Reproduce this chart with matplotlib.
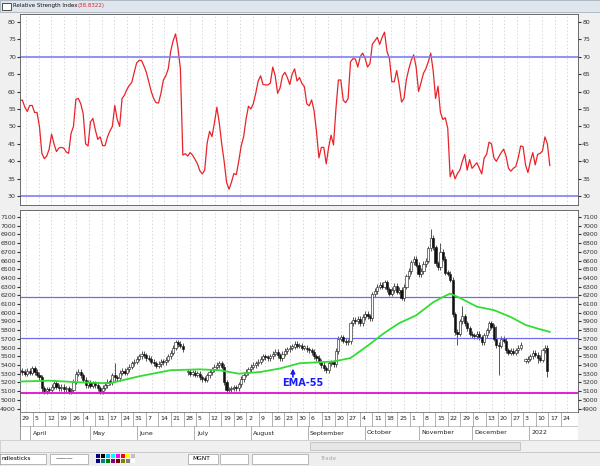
import matplotlib.pyplot as plt
import numpy as np
from matplotlib.patches import Rectangle

# ---- data (trading-day index) ----
rsi = [57.5, 57.5, 55.5, 54.3, 56, 56, 54, 54, 50, 42.3, 40.8, 41.5, 43.5, 47.8, 45, 42.8, 43.8, 44, 43.8, 42.7,
       42.3, 48, 50, 57.8, 58, 56.5, 53.6, 45, 44.4, 51.3, 52.3, 49, 46.3, 47, 44.5, 44.5, 47, 48.7, 50, 56,
       52, 50, 58, 59, 60.6, 61.8, 62.6, 65.5, 68.2, 68.9, 68.9, 67.3, 65.5, 62.8, 60, 58, 56.8, 56.7, 59.5, 63.3,
       64.5, 66.5, 71.5, 74.5, 76.5, 72.5, 66.5, 41.8, 42.2, 41.5, 42.5, 41.8, 40.6, 39.3, 37.3, 36.4, 37.5, 45.2, 48.6, 47.1,
       51, 55.5, 51, 45, 40, 34, 32, 34, 36.5, 36.2, 40, 44.4, 47, 52, 55.8, 55, 56.5, 59.5, 63, 64.5,
       62, 61.9, 61.9, 62.4, 67, 64.5, 59.5, 61, 64.5, 65.5, 64, 62, 65, 66.5, 63, 64, 62.3, 61.4, 56.5, 55.9,
       57.6, 54.5, 48.5, 41, 44, 44, 39.3, 44, 47.5, 44.7, 55, 63.3, 63.3, 57.5, 56.8, 58, 68.5, 69.4, 69.3, 67,
       70, 71, 69.5, 67, 68, 73.6, 74.5, 75.5, 73.5, 75.5, 77, 71.5, 69.5, 62.8, 62.8, 66, 62, 57, 58, 63.5,
       66.5, 69, 70.5, 67, 60, 62.5, 65.2, 66.5, 68.5, 71, 66, 58, 61.5, 54, 52, 52.5, 49.5, 35.6, 37.5, 35,
       36.5, 37.5, 40, 42, 37.5, 40.5, 38, 38.8, 39.6, 38, 36.4, 41, 42, 45.5, 45, 41, 40, 41.3, 42.5, 43.5,
       41.5, 38, 37.2, 38, 38.5, 41, 44.4, 44.2, 39, 36.8, 40, 42.5, 39, 42, 42.3, 43, 47, 45, 38.8]

close = [5330, 5320, 5300, 5330, 5310, 5360, 5320, 5290, 5260, 5130, 5100, 5120, 5110, 5150, 5190, 5150, 5130, 5150, 5120, 5130,
         5100, 5110, 5210, 5300, 5320, 5280, 5230, 5170, 5200, 5160, 5190, 5170, 5130, 5100, 5140, 5170, 5210, 5200, 5280, 5260,
         5250, 5310, 5330, 5310, 5350, 5380, 5420, 5440, 5470, 5500, 5530, 5510, 5480, 5470, 5440, 5420, 5390, 5410, 5440, 5430,
         5460, 5500, 5540, 5600, 5660, 5640, 5620, 5580, np.nan, 5320, 5300, 5310, 5290, 5300, 5260, 5240, 5230, 5280, 5320, 5350,
         5380, 5400, 5420, 5380, 5200, 5110, 5120, 5130, 5140, 5130, 5180, 5240, 5290, 5320, 5350, 5380, 5400, 5420, 5440, 5470,
         5500, 5490, 5480, 5500, 5530, 5550, 5510, 5480, 5530, 5560, 5580, 5600, 5610, 5640, 5620, 5620, 5600, 5600, 5580, 5570,
         5550, 5500, 5480, 5440, 5400, 5360, 5340, 5420, 5430, 5410, 5560, 5700, 5720, 5680, 5660, 5670, 5880, 5920, 5900, 5930,
         5880, 5950, 5990, 5960, 5940, 6210, 6250, 6300, 6320, 6300, 6350, 6270, 6220, 6260, 6310, 6240, 6260, 6170, 6300, 6420,
         6480, 6580, 6620, 6550, 6440, 6480, 6560, 6600, 6740, 6860, 6750, 6570, 6520, 6700, 6620, 6460, 6450, 6380, 5980, 5780,
         5760, 5900, 5960, 5880, 5820, 5760, 5740, 5730, 5760, 5720, 5660, 5740, 5800, 5880, 5840, 5700, 5630, 5620, 5700, 5680,
         5570, 5540, 5560, 5540, 5570, 5600, 5630, np.nan, 5450, 5470, 5500, 5540, 5520, 5480, 5460, 5570, 5600, 5330]

# long shadows visible on the chart
wick_low = {9: 5080, 39: 5200, 85: 5090, 157: 6150, 180: 5630, 197: 5280, 213: 5420, 217: 5260}
wick_high = {39: 5420, 65: 5690, 169: 6960, 173: 6800, 182: 6080, 196: 5850}

ema_days = [0, 12, 25, 37, 49, 62, 74, 82, 90, 99, 107, 115, 129, 136, 143, 150, 156, 163, 170, 174, 177, 181, 188, 195, 202, 208, 214, 218]
ema_vals = [5210, 5220, 5200, 5190, 5270, 5340, 5350, 5340, 5300, 5320, 5360, 5420, 5440, 5480, 5620, 5770, 5880, 5970, 6120, 6180, 6220, 6170, 6070, 6030, 5950, 5860, 5810, 5780]

week_labels = ["29", "5", "12", "19", "26", "4", "11", "17", "24", "31", "7", "14", "21", "28", "5", "12", "19", "26",
               "2", "9", "16", "23", "30", "6", "13", "20", "27", "4", "11", "18", "25", "1", "8", "15", "22", "29",
               "6", "13", "20", "27", "3", "10", "17", "24"]
month_labels = ["April", "May", "June", "July", "August", "September", "October", "November", "December", "2022"]
month_days = [5.3, 29.6, 49, 72.8, 95.9, 119.3, 142.8, 165, 187, 210.3]

price_lines = [6180, 5710]
support_line = 5080

XMAX = 229.6
week_ticks = np.linspace(2.5, 2.5 + 43 * 5.177, 44)

fig = plt.figure(figsize=(6, 4.66), dpi=100)
fig.patch.set_facecolor("#f0f0f0")

W, H = 600.0, 466.0


def px_axes(x0, y0, x1, y1):
    return fig.add_axes([x0 / W, 1 - y1 / H, (x1 - x0) / W, (y1 - y0) / H])


def style_panel(ax):
    ax.set_facecolor("white")
    ax.set_xlim(0, XMAX)
    ax.set_xticks(week_ticks)
    ax.tick_params(axis="x", length=0, labelbottom=False)
    ax.tick_params(axis="y", labelsize=4.5, length=2, pad=1, colors="#333333",
                   left=True, right=True, labelleft=True, labelright=True)
    ax.grid(axis="x", color="#c8c8c8", linestyle=(0, (2, 3)), linewidth=0.5)
    for s in ax.spines.values():
        s.set_color("#555555")
        s.set_linewidth(0.6)


# title bar
fig.patches.append(Rectangle((0, 1 - 12 / H), 1, 12 / H, transform=fig.transFigure,
                             facecolor="#dfe6ee", edgecolor="#9aa5b1", linewidth=0.5))
fig.patches.append(Rectangle((2 / W, 1 - 10 / H), 9 / W, 7 / H, transform=fig.transFigure,
                             facecolor="white", edgecolor="#333333", linewidth=0.6))
fig.text(13 / W, 1 - 6 / H, "Relative Strength Index", fontsize=4, va="center", color="#111111")
fig.text(77 / W, 1 - 6 / H, "(38.8322)", fontsize=4, va="center", color="#e02020")

# RSI panel
ax1 = px_axes(20, 14, 578, 205)
style_panel(ax1)
days = np.arange(len(rsi))
ax1.plot(days, rsi, color="#e8242a", linewidth=0.9)
ax1.axhline(70, color="#7f7ff5", linewidth=1.2)
ax1.axhline(30, color="#7f7ff5", linewidth=1.2)
ax1.set_ylim(27.5, 82.2)
ax1.set_yticks(range(30, 81, 5))

# price panel
ax2 = px_axes(20, 210, 578, 412)
style_panel(ax2)
prev = np.nan
for d, c in enumerate(close):
    if np.isnan(c):
        prev = np.nan
        continue
    o = c if np.isnan(prev) else prev
    lo = wick_low.get(d, min(o, c) - 30)
    hi = wick_high.get(d, max(o, c) + 30)
    ax2.vlines(d, lo, hi, color="#111111", linewidth=0.5, zorder=2)
    body = max(abs(c - o), 15)
    fc = "white" if c >= o else "#111111"
    ax2.add_patch(Rectangle((d - 0.45, min(o, c)), 0.9, body, facecolor=fc,
                            edgecolor="#111111", linewidth=0.4, zorder=3))
    prev = c
ax2.plot(ema_days, ema_vals, color="#33dd33", linewidth=1.3, zorder=4)
for p in price_lines:
    ax2.axhline(p, color="#6e6ee8", linewidth=0.9)
ax2.axhline(support_line, color="#e020d0", linewidth=1.4)
ax2.set_ylim(4860, 7180)
ax2.set_yticks(range(4900, 7101, 100))
ax2.annotate("", xy=(112.3, 5390), xytext=(112.3, 5230),
             arrowprops=dict(arrowstyle="-|>", color="#1a1aff", lw=1.2, mutation_scale=6))
ax2.text(116.5, 5190, "EMA-55", color="#1a1aff", fontsize=7, fontweight="bold",
         ha="center", va="center", family="Liberation Sans Narrow")

# date axis
ax3 = px_axes(20, 412, 578, 440)
ax3.set_facecolor("white")
ax3.set_xlim(0, XMAX)
ax3.set_ylim(0, 2)
ax3.axis("off")
ax3.add_patch(Rectangle((0, 0), XMAX, 2, facecolor="white", edgecolor="#777777", linewidth=0.5))
ax3.axhline(1, color="#999999", linewidth=0.4)
for t, lab in zip(week_ticks, week_labels):
    ax3.plot([t - 2.5, t - 2.5], [1, 2], color="#777777", linewidth=0.4)
    ax3.text(t - 1.8, 1.5, lab, fontsize=4.5, va="center", ha="left", color="#222222")
for d, lab in zip(month_days, month_labels):
    ax3.plot([d - 1, d - 1], [0, 1], color="#777777", linewidth=0.4)
    ax3.text(d, 0.5, lab, fontsize=4.5, va="center", ha="left", color="#222222")

# scrollbar + toolbar
fig.patches.append(Rectangle((0, 14 / H), 1, 12 / H, transform=fig.transFigure,
                             facecolor="#f0f0f0", edgecolor="#bbbbbb", linewidth=0.4))
fig.patches.append(Rectangle((310 / W, 16 / H), 210 / W, 8 / H, transform=fig.transFigure,
                             facecolor="#e6e6e6", edgecolor="#aaaaaa", linewidth=0.4))
fig.patches.append(Rectangle((0, 0), 1, 14 / H, transform=fig.transFigure,
                             facecolor="#eeeeee", edgecolor="#bbbbbb", linewidth=0.4))
for x0, x1 in [(0, 46), (50, 88), (188, 218), (220, 248), (252, 308)]:
    fig.patches.append(Rectangle((x0 / W, 2 / H), (x1 - x0) / W, 10 / H, transform=fig.transFigure,
                                 facecolor="white", edgecolor="#888888", linewidth=0.4))
fig.text(1 / W, 7 / H, "ndlesticks", fontsize=4.2, va="center")
fig.text(56 / W, 7 / H, "\u2014\u2014\u2014", fontsize=4.2, va="center")
fig.text(192 / W, 7 / H, "MGNT", fontsize=4.2, va="center")
fig.text(320 / W, 7 / H, "Trade", fontsize=4.2, va="center", color="#aaaaaa")
palette = ["#000080", "#000000", "#00c0ff", "#00ffff", "#ff00ff", "#ff0000", "#ffff00", "#c0c0c0",
           "#000080", "#008080", "#008000", "#800080", "#800000", "#808000", "#808080", "#ffffff"]
for i, col in enumerate(palette):
    cx = 96 + (i % 8) * 5
    cy = 8 if i < 8 else 3
    fig.patches.append(Rectangle((cx / W, cy / H), 4 / W, 4 / H, transform=fig.transFigure,
                                 facecolor=col, edgecolor="none"))

fig.savefig("out.png", dpi=100, facecolor=fig.get_facecolor())
